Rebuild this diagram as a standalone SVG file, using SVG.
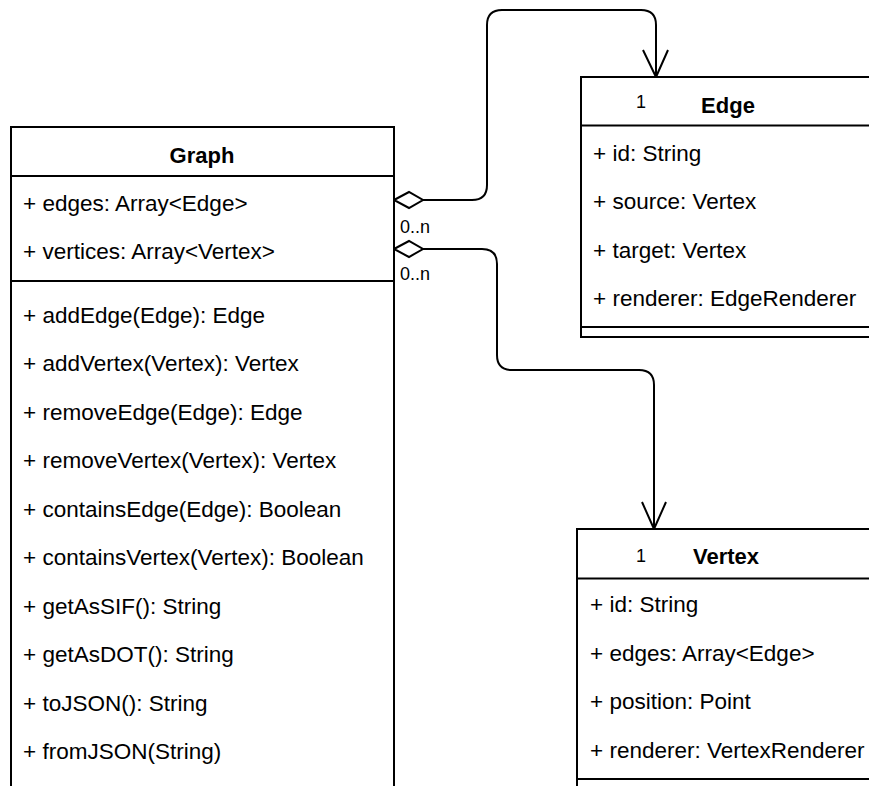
<svg xmlns="http://www.w3.org/2000/svg" width="869" height="786" viewBox="0 0 869 786">
<style>
.box{fill:#fff;stroke:#000;stroke-width:2}
.ln{stroke:#000;stroke-width:2;fill:none}
.t{font-family:"Liberation Sans",Arial,sans-serif;font-size:22.5px;fill:#000}
.h{font-family:"Liberation Sans",Arial,sans-serif;font-size:22px;font-weight:bold;fill:#000;text-anchor:middle}
.s{font-family:"Liberation Sans",Arial,sans-serif;font-size:18px;fill:#000}
</style>
<rect width="869" height="786" fill="#fff"/>
<g id="connectors">
<path class="ln" d="M423,200 H472 Q487,200 487,185 V25 Q487,10 502,10 H641 Q656,10 656,25 V77"/>
<path class="ln" d="M643,50 L656,77 L668,50"/>
<path class="box" d="M394,200 L409,192 L423,200 L409,208 Z"/>
<text class="s" x="400" y="233">0..n</text>
<path class="ln" d="M423,249 H482 Q497,249 497,264 V355 Q497,370 512,370 H639 Q654,370 654,385 V529"/>
<path class="ln" d="M642,502 L654,529 L666,502"/>
<path class="box" d="M394,249 L409,241 L423,249 L409,257 Z"/>
<text class="s" x="400" y="280">0..n</text>
</g>
<g id="graph">
<rect class="box" x="11" y="127" width="383" height="680"/>
<line class="ln" x1="11" y1="176" x2="394" y2="176"/>
<line class="ln" x1="11" y1="281" x2="394" y2="281"/>
<text class="h" x="202" y="163">Graph</text>
<text class="t" x="23" y="211">+ edges: Array&lt;Edge&gt;</text>
<text class="t" x="23" y="259">+ vertices: Array&lt;Vertex&gt;</text>
<text class="t" x="23" y="323">+ addEdge(Edge): Edge</text>
<text class="t" x="23" y="371">+ addVertex(Vertex): Vertex</text>
<text class="t" x="23" y="420">+ removeEdge(Edge): Edge</text>
<text class="t" x="23" y="468">+ removeVertex(Vertex): Vertex</text>
<text class="t" x="23" y="517">+ containsEdge(Edge): Boolean</text>
<text class="t" x="23" y="565">+ containsVertex(Vertex): Boolean</text>
<text class="t" x="23" y="614">+ getAsSIF(): String</text>
<text class="t" x="23" y="662">+ getAsDOT(): String</text>
<text class="t" x="23" y="711">+ toJSON(): String</text>
<text class="t" x="23" y="759">+ fromJSON(String)</text>
</g>
<g id="edge">
<rect class="box" x="581" y="77" width="300" height="260"/>
<line class="ln" x1="581" y1="125.5" x2="881" y2="125.5"/>
<line class="ln" x1="581" y1="327" x2="881" y2="327"/>
<text class="s" x="641" y="108" text-anchor="middle">1</text>
<text class="h" x="728" y="113">Edge</text>
<text class="t" x="593" y="160.5">+ id: String</text>
<text class="t" x="593" y="209">+ source: Vertex</text>
<text class="t" x="593" y="257.5">+ target: Vertex</text>
<text class="t" x="593" y="306">+ renderer: EdgeRenderer</text>
</g>
<g id="vertex">
<rect class="box" x="577" y="529" width="300" height="300"/>
<line class="ln" x1="577" y1="578.5" x2="877" y2="578.5"/>
<line class="ln" x1="577" y1="779" x2="877" y2="779"/>
<text class="s" x="641" y="562" text-anchor="middle">1</text>
<text class="h" x="726" y="564">Vertex</text>
<text class="t" x="590" y="612">+ id: String</text>
<text class="t" x="590" y="661">+ edges: Array&lt;Edge&gt;</text>
<text class="t" x="590" y="709">+ position: Point</text>
<text class="t" x="590" y="758">+ renderer: VertexRenderer</text>
</g>
</svg>
